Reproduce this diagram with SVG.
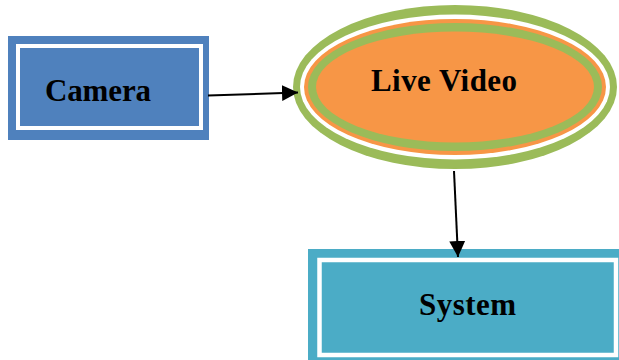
<svg xmlns="http://www.w3.org/2000/svg" width="619" height="360" viewBox="0 0 619 360">
  <style>
    .label { font-family: "Liberation Serif", "Times New Roman", serif; font-weight: bold; font-size: 31px; fill: #000; }
    .edge { stroke: #000; stroke-width: 2; fill: none; }
    .ring { fill: none; stroke: #fff; }
  </style>
  <defs>
    <marker id="arrow" markerUnits="userSpaceOnUse" markerWidth="17" markerHeight="16" refX="16" refY="8" orient="auto">
      <path d="M0,0 L16,8 L0,16 Z" fill="#000"/>
    </marker>
  </defs>

  <rect width="619" height="360" fill="#fff"/>

  <!-- Camera: blue box with a white inner frame -->
  <g id="camera">
    <rect x="8" y="36" width="201" height="104" fill="#4F81BD"/>
    <rect class="ring" x="18" y="46" width="183" height="82" stroke-width="4"/>
    <text class="label" x="45" y="101" textLength="106" lengthAdjust="spacing">Camera</text>
  </g>

  <!-- Live Video: orange ellipse with green / white / orange / green rings -->
  <g id="live-video">
    <ellipse cx="455" cy="87" rx="162" ry="82" fill="#9BBB59"/>
    <ellipse cx="455" cy="87" rx="155" ry="72.5" fill="#fff"/>
    <ellipse cx="455" cy="87" rx="151" ry="68" fill="#F79646"/>
    <ellipse cx="455" cy="87" rx="147" ry="64" fill="#9BBB59"/>
    <ellipse cx="455" cy="87" rx="139" ry="55.5" fill="#F79646"/>
    <text class="label" x="371" y="91" textLength="146" lengthAdjust="spacing">Live Video</text>
  </g>

  <!-- System: teal box with a white inner frame, running off the page -->
  <g id="system">
    <rect x="308" y="249" width="320" height="120" fill="#4BACC6"/>
    <rect class="ring" x="319.5" y="260" width="296.5" height="95" stroke-width="4.5"/>
    <text class="label" x="419" y="315" textLength="97" lengthAdjust="spacing">System</text>
  </g>

  <!-- connectors -->
  <g id="connectors">
    <line class="edge" x1="208" y1="95.5" x2="298" y2="92.5" marker-end="url(#arrow)"/>
    <line class="edge" x1="454" y1="171" x2="458" y2="257" marker-end="url(#arrow)"/>
  </g>
</svg>
